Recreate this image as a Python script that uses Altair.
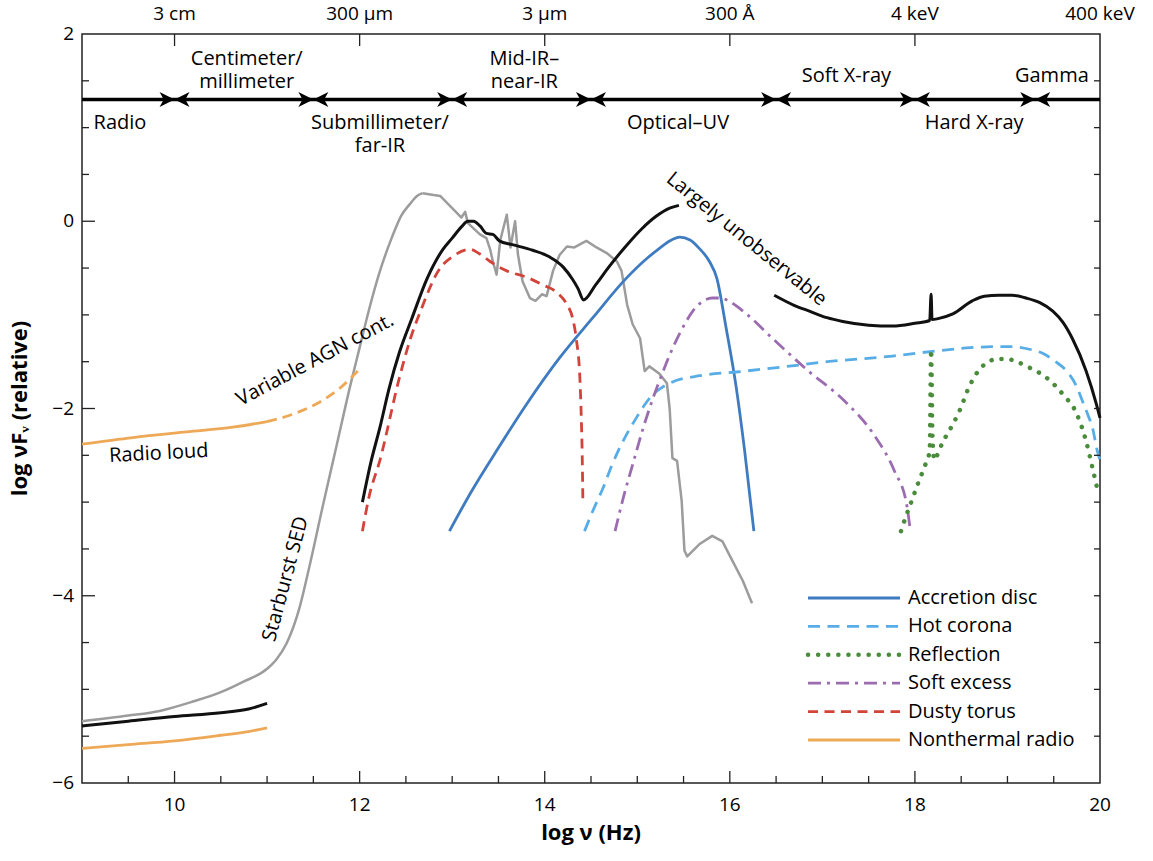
import altair as alt
import pandas as pd

# ---------------------------------------------------------------
# Spectral energy distribution components, log nu (Hz) vs log nuFnu
# ---------------------------------------------------------------

# Starburst SED (grey): smooth rise, then the jagged PAH / stellar region
STARBURST_RISE_X = [9.0, 9.5, 9.84, 10.2, 10.5, 10.74, 11.0, 11.1, 11.21, 11.35, 11.45,
                    11.6, 11.75, 11.9, 12.0, 12.1, 12.22, 12.35, 12.45, 12.54, 12.62, 12.68]
STARBURST_RISE_Y = [-5.34, -5.28, -5.23, -5.13, -5.03, -4.92, -4.78, -4.68, -4.51, -4.13, -3.72,
                    -3.05, -2.4, -1.75, -1.35, -0.95, -0.53, -0.17, 0.06, 0.18, 0.27, 0.30]
STARBURST_BUMPS_X = [12.68, 12.8, 12.87, 13.0, 13.1, 13.14, 13.17, 13.3, 13.37, 13.41,
                     13.44, 13.48, 13.52, 13.59, 13.63, 13.68, 13.71, 13.76, 13.84, 13.9,
                     13.97, 14.02, 14.09, 14.16, 14.24, 14.32, 14.45, 14.56, 14.67, 14.78,
                     14.83, 14.89, 14.95, 15.03, 15.08, 15.13, 15.24, 15.32, 15.35, 15.38,
                     15.43, 15.48, 15.51, 15.54, 15.67, 15.81, 15.92, 16.03, 16.14, 16.24]
STARBURST_BUMPS_Y = [0.30, 0.28, 0.27, 0.14, 0.04, 0.10, -0.02, -0.14, -0.18, -0.30,
                     -0.43, -0.57, -0.20, 0.07, -0.28, 0.00, -0.35, -0.64, -0.82, -0.85,
                     -0.78, -0.80, -0.53, -0.36, -0.27, -0.28, -0.21, -0.28, -0.34, -0.43,
                     -0.53, -0.89, -1.10, -1.25, -1.60, -1.55, -1.63, -1.73, -2.00, -2.53,
                     -2.56, -2.99, -3.52, -3.58, -3.45, -3.36, -3.42, -3.63, -3.84, -4.08]

# Total AGN SED (black), three observable pieces
TOTAL_RADIO_X = [9.0, 9.5, 10.0, 10.5, 10.8, 11.0]
TOTAL_RADIO_Y = [-5.39, -5.34, -5.29, -5.25, -5.21, -5.15]
TOTAL_IR_X = [12.03, 12.12, 12.22, 12.32, 12.43, 12.56, 12.73, 12.9, 13.0, 13.1,
              13.17, 13.23, 13.3, 13.37, 13.44, 13.51, 13.65, 13.87, 14.05, 14.2,
              14.3, 14.36, 14.42, 14.55, 14.7, 14.9, 15.05, 15.2, 15.35, 15.45]
TOTAL_IR_Y = [-3.0, -2.58, -2.2, -1.78, -1.4, -1.05, -0.61, -0.3, -0.18, -0.06,
              0.0, 0.0, -0.05, -0.13, -0.14, -0.21, -0.25, -0.31, -0.38, -0.49,
              -0.62, -0.72, -0.84, -0.68, -0.48, -0.24, -0.08, 0.05, 0.14, 0.17]
TOTAL_XRAY_X = [16.48, 16.7, 16.86, 17.05, 17.22, 17.5, 17.76, 18.0, 18.16, 18.175,
                18.185, 18.25, 18.41, 18.62, 18.75, 18.91, 19.05, 19.2, 19.35, 19.49,
                19.6, 19.7, 19.85, 19.96, 20.0]
TOTAL_XRAY_Y = [-0.79, -0.9, -0.96, -1.03, -1.07, -1.11, -1.12, -1.09, -1.06, -0.78,
                -1.05, -1.04, -0.99, -0.85, -0.8, -0.79, -0.79, -0.82, -0.87, -0.96,
                -1.08, -1.25, -1.6, -1.95, -2.1]

# Accretion disc
DISC_X = [12.97, 13.2, 13.5, 13.8, 14.16, 14.52, 14.88, 15.1, 15.24, 15.35,
          15.46, 15.57, 15.67, 15.78, 15.86, 15.96, 16.07, 16.16, 16.26]
DISC_Y = [-3.31, -2.9, -2.42, -1.96, -1.46, -1.03, -0.61, -0.4, -0.29, -0.21,
          -0.17, -0.2, -0.29, -0.43, -0.61, -1.14, -1.78, -2.45, -3.31]

# Hot corona
CORONA_X = [14.43, 14.53, 14.63, 14.72, 14.81, 14.9, 14.99, 15.08, 15.17, 15.26,
            15.35, 15.67, 16.07, 16.54, 17.05, 17.76, 18.19, 18.6, 18.84, 19.05,
            19.25, 19.38, 19.52, 19.64, 19.74, 19.81, 19.87, 19.92, 19.97, 20.0]
CORONA_Y = [-3.31, -3.07, -2.85, -2.62, -2.42, -2.25, -2.1, -1.96, -1.85, -1.78,
            -1.73, -1.65, -1.61, -1.56, -1.5, -1.44, -1.39, -1.35, -1.34, -1.34,
            -1.37, -1.41, -1.5, -1.6, -1.75, -1.92, -2.07, -2.21, -2.45, -2.55]

# Reflection (with the Fe K line)
REFLECT_X = [17.85, 17.9, 17.96, 18.03, 18.1, 18.16, 18.175, 18.19, 18.21, 18.24,
             18.3, 18.37, 18.48, 18.59, 18.7, 18.8, 18.88, 18.99, 19.1, 19.21,
             19.42, 19.6, 19.75, 19.85, 19.92, 19.98]
REFLECT_Y = [-3.31, -3.16, -3.0, -2.81, -2.63, -2.45, -1.37, -2.3, -2.55, -2.5,
             -2.36, -2.24, -2.03, -1.76, -1.58, -1.5, -1.47, -1.47, -1.5, -1.55,
             -1.67, -1.85, -2.06, -2.35, -2.64, -2.9]

# Soft excess
SOFT_X = [14.76, 14.85, 14.95, 15.06, 15.17, 15.28, 15.38, 15.5, 15.6, 15.7, 15.81,
          15.9, 16.0, 16.18, 16.46, 16.85, 17.24, 17.55, 17.78, 17.91, 17.95]
SOFT_Y = [-3.31, -2.95, -2.6, -2.22, -1.89, -1.6, -1.36, -1.12, -0.96, -0.86, -0.82,
          -0.82, -0.86, -0.99, -1.25, -1.6, -1.92, -2.27, -2.67, -3.02, -3.3]

# Dusty torus
TORUS_X = [12.03, 12.1, 12.22, 12.43, 12.55, 12.65, 12.87, 13.0, 13.19, 13.3, 13.41,
           13.59, 13.81, 13.98, 14.13, 14.24, 14.3, 14.34, 14.38, 14.395, 14.405, 14.412]
TORUS_Y = [-3.31, -2.95, -2.55, -1.67, -1.25, -0.98, -0.5, -0.38, -0.3, -0.35, -0.43,
           -0.53, -0.6, -0.68, -0.76, -0.89, -1.03, -1.25, -1.68, -2.1, -2.5, -2.97]

# Nonthermal radio: radio-quiet level, radio-loud level and its variable extension
NONTHERMAL_X = [9.0, 9.5, 10.0, 10.5, 10.8, 11.0]
NONTHERMAL_Y = [-5.63, -5.59, -5.55, -5.49, -5.45, -5.41]
RADIO_LOUD_X = [9.0, 9.55, 10.13, 10.63, 11.0]
RADIO_LOUD_Y = [-2.38, -2.31, -2.25, -2.2, -2.14]
AGN_VAR_X = [11.0, 11.28, 11.57, 11.79, 11.98]
AGN_VAR_Y = [-2.14, -2.06, -1.93, -1.78, -1.6]

# Wavebands along the top (y gives the first text line)
BAND_EDGES = [10, 11.5, 13, 14.5, 16.5, 18, 19.3]
BAND_LINE_Y = 1.3
BAND_NAMES = ["Radio", "Centimeter/\nmillimeter", "Submillimeter/\nfar-IR", "Mid-IR–\nnear-IR",
              "Optical–UV", "Soft X-ray", "Hard X-ray", "Gamma"]
BAND_NAME_X = [9.41, 10.78, 12.22, 13.78, 15.44, 17.26, 18.64, 19.48]
BAND_NAME_Y = [1.05, 1.73, 1.05, 1.73, 1.05, 1.55, 1.05, 1.55]

# Secondary (top) axis: wavelength / energy
TOP_POS = [10, 12, 14, 16, 18, 20]
TOP_LABELS = ["3 cm", "300 μm", "3 μm", "300 Å", "4 keV", "400 keV"]

X_TICKS = [10, 12, 14, 16, 18, 20]
Y_TICKS = [2, 0, -2, -4, -6]
Y_TICK_LABELS = ["2", "0", "−2", "−4", "−6"]

# In-plot annotations
NOTE_TEXT = ["Radio loud", "Variable AGN cont.", "Starburst SED", "Largely unobservable"]
NOTE_X = [9.83, 11.52, 11.2, 16.18]
NOTE_Y = [-2.48, -1.48, -3.82, -0.19]
NOTE_ANGLE = [357, 332, 285, 39]

LEGEND_LABELS = ["Accretion disc", "Hot corona", "Reflection", "Soft excess",
                 "Dusty torus", "Nonthermal radio"]

# ---------------------------------------------------------------
W, H = 1018, 749
FONT = "Open Sans"
AXC = "#222222"

C_BLACK = "#111111"
C_GREY = "#9c9c9c"
C_DISC = "#3f7bc0"
C_CORONA = "#58ade6"
C_REFL = "#4b8c3c"
C_SOFT = "#9c6cb0"
C_TORUS = "#d2433a"
C_RADIO = "#eda957"

STYLE = {
    "Accretion disc": dict(color=C_DISC, strokeWidth=2.8),
    "Hot corona": dict(color=C_CORONA, strokeWidth=2.8, strokeDash=[12, 7.5]),
    "Reflection": dict(color=C_REFL, strokeWidth=4.5, strokeDash=[0.1, 10], strokeCap="round"),
    "Soft excess": dict(color=C_SOFT, strokeWidth=2.8, strokeDash=[13, 6, 3, 6]),
    "Dusty torus": dict(color=C_TORUS, strokeWidth=2.8, strokeDash=[10, 6.5]),
    "Nonthermal radio": dict(color=C_RADIO, strokeWidth=2.8),
}

xscale = alt.Scale(domain=[9, 20], nice=False, zero=False)
yscale = alt.Scale(domain=[-6, 2], nice=False, zero=False)


def XQ(field="x"):
    return alt.X(f"{field}:Q", scale=xscale, axis=None)


def YQ(field="y"):
    return alt.Y(f"{field}:Q", scale=yscale, axis=None)


def curve(xs, ys, interp="monotone", **style):
    assert len(xs) == len(ys)
    df = pd.DataFrame({"x": xs, "y": ys})
    props = dict(interpolate=interp, strokeJoin="round")
    props.update(style)
    return alt.Chart(df).mark_line(**props).encode(x=XQ(), y=YQ())


one_row = pd.DataFrame({"k": [0]})
layers = []

# --- curves ---
layers.append(curve(STARBURST_RISE_X, STARBURST_RISE_Y, color=C_GREY, strokeWidth=2.5))
layers.append(curve(STARBURST_BUMPS_X, STARBURST_BUMPS_Y, interp="linear", color=C_GREY, strokeWidth=2.5))
layers.append(curve(NONTHERMAL_X, NONTHERMAL_Y, **STYLE["Nonthermal radio"]))
layers.append(curve(RADIO_LOUD_X, RADIO_LOUD_Y, **STYLE["Nonthermal radio"]))
layers.append(curve(AGN_VAR_X, AGN_VAR_Y, color=C_RADIO, strokeWidth=2.8, strokeDash=[10, 6]))
layers.append(curve(TORUS_X, TORUS_Y, **STYLE["Dusty torus"]))
layers.append(curve(DISC_X, DISC_Y, **STYLE["Accretion disc"]))
layers.append(curve(CORONA_X, CORONA_Y, **STYLE["Hot corona"]))
layers.append(curve(SOFT_X, SOFT_Y, **STYLE["Soft excess"]))
layers.append(curve(REFLECT_X, REFLECT_Y, **STYLE["Reflection"]))
layers.append(curve(TOTAL_RADIO_X, TOTAL_RADIO_Y, color=C_BLACK, strokeWidth=3))
layers.append(curve(TOTAL_IR_X, TOTAL_IR_Y, color=C_BLACK, strokeWidth=3))
layers.append(curve(TOTAL_XRAY_X, TOTAL_XRAY_Y, color=C_BLACK, strokeWidth=3))

# --- waveband arrows ---
layers.append(
    alt.Chart(pd.DataFrame({"y": [BAND_LINE_Y]}))
    .mark_rule(color="black", strokeWidth=3.5)
    .encode(y=YQ(), x=alt.value(0), x2=alt.value(W))
)
RIGHT_HEAD = "M0,0 L-1,-0.5 L-0.72,0 L-1,0.5 Z"
LEFT_HEAD = "M0,0 L1,-0.5 L0.72,0 L1,0.5 Z"
heads = pd.DataFrame({"x": BAND_EDGES, "y": [BAND_LINE_Y] * len(BAND_EDGES)})
for shape in (RIGHT_HEAD, LEFT_HEAD):
    layers.append(
        alt.Chart(heads)
        .mark_point(shape=shape, filled=True, size=900, color="black", opacity=1, strokeWidth=0)
        .encode(x=XQ(), y=YQ())
    )
layers.append(
    alt.Chart(pd.DataFrame({"x": BAND_NAME_X, "y": BAND_NAME_Y, "t": BAND_NAMES}))
    .mark_text(font=FONT, fontSize=20, lineBreak="\n", lineHeight=23, baseline="middle", color="black")
    .encode(x=XQ(), y=YQ(), text="t:N")
)

# --- annotations ---
for t, x, y, a in zip(NOTE_TEXT, NOTE_X, NOTE_Y, NOTE_ANGLE):
    layers.append(
        alt.Chart(pd.DataFrame({"x": [x], "y": [y], "t": [t]}))
        .mark_text(font=FONT, fontSize=20, angle=a, baseline="middle", color="black")
        .encode(x=XQ(), y=YQ(), text="t:N")
    )

# --- inward tick marks ---
x_minor = [v / 2 for v in range(19, 40) if v % 4 != 0]
y_minor = [v / 2 for v in range(-11, 4) if v % 4 != 0]
y_half = [v / 2 for v in range(-11, 4)]


def xticks(values, y0, y1):
    return (alt.Chart(pd.DataFrame({"x": values}))
            .mark_rule(color=AXC, strokeWidth=1.3)
            .encode(x=XQ(), y=alt.value(y0), y2=alt.value(y1)))


def yticks(values, x0, x1):
    return (alt.Chart(pd.DataFrame({"y": values}))
            .mark_rule(color=AXC, strokeWidth=1.3)
            .encode(y=YQ(), x=alt.value(x0), x2=alt.value(x1)))


layers.append(xticks(X_TICKS[:-1], H, H - 12))
layers.append(xticks(x_minor, H, H - 7))
layers.append(xticks(TOP_POS[:-1], 0, 12))
layers.append(yticks(Y_TICKS[1:-1], 0, 13))
layers.append(yticks(y_minor, 0, 7))
layers.append(yticks(y_half, W, W - 6))

# --- tick labels ---
layers.append(
    alt.Chart(pd.DataFrame({"x": X_TICKS, "t": [str(v) for v in X_TICKS]}))
    .mark_text(font=FONT, fontSize=19, baseline="middle", color="black")
    .encode(x=XQ(), y=alt.value(H + 22), text="t:N")
)
layers.append(
    alt.Chart(pd.DataFrame({"x": TOP_POS, "t": TOP_LABELS}))
    .mark_text(font=FONT, fontSize=19, baseline="middle", color="black")
    .encode(x=XQ(), y=alt.value(-20), text="t:N")
)
layers.append(
    alt.Chart(pd.DataFrame({"y": Y_TICKS, "t": Y_TICK_LABELS}))
    .mark_text(font=FONT, fontSize=19, baseline="middle", align="right", color="black")
    .encode(y=YQ(), x=alt.value(-8), text="t:N")
)

# --- axis titles ---
layers.append(
    alt.Chart(one_row)
    .mark_text(font=FONT, fontSize=22, fontWeight="bold", baseline="middle", color="black")
    .encode(x=alt.value(W / 2), y=alt.value(H + 50), text=alt.value("log ν (Hz)"))
)
layers.append(
    alt.Chart(one_row)
    .mark_text(font=FONT, fontSize=22, fontWeight="bold", baseline="middle", angle=270, color="black")
    .encode(x=alt.value(-62), y=alt.value(H / 2), text=alt.value("log νFᵥ (relative)"))
)

# --- legend ---
LEG_X0, LEG_X1, LEG_TX, LEG_Y0, LEG_DY = 726, 818, 826, 564, 28.4
for i, name in enumerate(LEGEND_LABELS):
    yy = LEG_Y0 + i * LEG_DY
    st = dict(STYLE[name])
    layers.append(
        alt.Chart(one_row).mark_rule(**st)
        .encode(x=alt.value(LEG_X0), x2=alt.value(LEG_X1), y=alt.value(yy))
    )
    layers.append(
        alt.Chart(one_row)
        .mark_text(font=FONT, fontSize=20, align="left", baseline="middle", color="black")
        .encode(x=alt.value(LEG_TX), y=alt.value(yy), text=alt.value(name))
    )

chart = (
    alt.layer(*layers)
    .properties(
        width=W,
        height=H,
        padding={"left": 82, "top": 34, "right": 53, "bottom": 78},
        autosize=alt.AutoSizeParams(type="none"),
        background="white",
    )
    .configure_view(stroke=AXC, strokeWidth=1.5)
)

chart.save("out.html", embed_options={"renderer": "svg", "actions": False})
